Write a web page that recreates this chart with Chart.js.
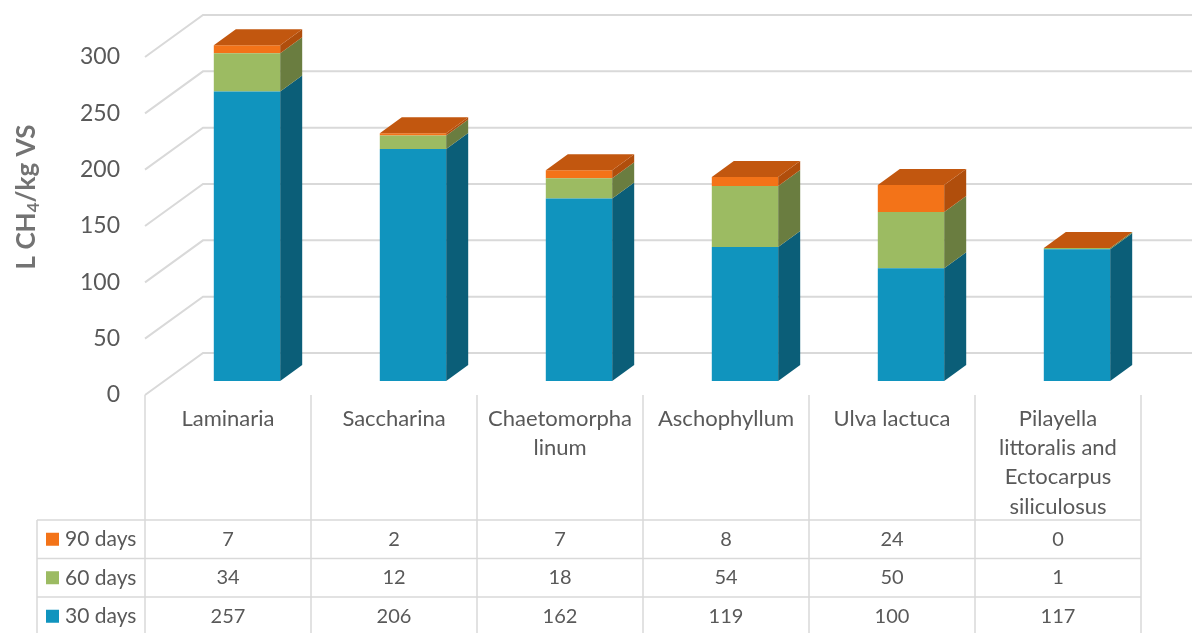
<!DOCTYPE html>
<html>
<head>
<meta charset="utf-8">
<script src="https://cdn.jsdelivr.net/npm/chart.js@4.4.1/dist/chart.umd.min.js"></script>
<style>
  html, body { margin: 0; padding: 0; background: #fff; }
  #wrap { width: 1192px; height: 633px; }
</style>
</head>
<body>
<div id="wrap"><canvas id="methaneChart"></canvas></div>
<script>
// data
const categories = [
  ['Laminaria'],
  ['Saccharina'],
  ['Chaetomorpha', 'linum'],
  ['Aschophyllum'],
  ['Ulva lactuca'],
  ['Pilayella', 'littoralis and', 'Ectocarpus', 'siliculosus']
];
const seriesNames = ['30 days', '60 days', '90 days'];
const days30 = [257, 206, 162, 119, 100, 117];
const days60 = [34, 12, 18, 54, 50, 1];
const days90 = [7, 2, 7, 8, 24, 0];
const yTicks = [0, 50, 100, 150, 200, 250, 300];

const FONT = 'Lato, "Noto Sans", sans-serif';
const TEXT = '#595959';
const GRID = '#d9d9d9';

// fake 3D: oblique offsets
const WALL = { dx: 58, dy: -42 };
const BAR_OFF = { dx: 19, dy: -14 };
const BAR_DEPTH = { dx: 22, dy: -16 };

const colors = [
  { front: '#1094be', side: '#0b5e78' },
  { front: '#9cbb62', side: '#6a7d40' },
  { front: '#f37318', side: '#b04e0c' }
];
const topColor = '#c2570f';

const threeD = {
  id: 'threeD',
  beforeDatasetsDraw(chart) {
    const { ctx, chartArea: a, scales: { y } } = chart;
    ctx.save();
    ctx.strokeStyle = GRID;
    ctx.lineWidth = 2;
    yTicks.forEach(v => {
      const py = y.getPixelForValue(v);
      ctx.beginPath();
      ctx.moveTo(a.left, py);
      ctx.lineTo(a.left + WALL.dx, py + WALL.dy);
      ctx.lineTo(chart.width, py + WALL.dy);
      ctx.stroke();
    });
    ctx.restore();
    ctx.save();
    ctx.translate(BAR_OFF.dx, BAR_OFF.dy);
  },
  afterDatasetsDraw(chart) {
    const ctx = chart.ctx;
    const n = chart.data.datasets.length;
    chart.data.datasets.forEach((ds, di) => {
      chart.getDatasetMeta(di).data.forEach(bar => {
        const p = bar.getProps(['x', 'y', 'base', 'width'], true);
        const r = p.x + p.width / 2;
        ctx.fillStyle = colors[di].side;
        ctx.beginPath();
        ctx.moveTo(r, p.y);
        ctx.lineTo(r + BAR_DEPTH.dx, p.y + BAR_DEPTH.dy);
        ctx.lineTo(r + BAR_DEPTH.dx, p.base + BAR_DEPTH.dy);
        ctx.lineTo(r, p.base);
        ctx.closePath();
        ctx.fill();
      });
    });
    chart.getDatasetMeta(n - 1).data.forEach(bar => {
      const p = bar.getProps(['x', 'y', 'width'], true);
      const l = p.x - p.width / 2, r = p.x + p.width / 2;
      ctx.fillStyle = topColor;
      ctx.beginPath();
      ctx.moveTo(l, p.y);
      ctx.lineTo(l + BAR_DEPTH.dx, p.y + BAR_DEPTH.dy);
      ctx.lineTo(r + BAR_DEPTH.dx, p.y + BAR_DEPTH.dy);
      ctx.lineTo(r, p.y);
      ctx.closePath();
      ctx.fill();
    });
    ctx.restore();
  },
  afterDraw(chart) {
    const { ctx, chartArea: a, scales: { x } } = chart;
    const rowTop = 520, rowH = 38.5;
    const rows = [
      { name: seriesNames[2], vals: days90, c: colors[2].front },
      { name: seriesNames[1], vals: days60, c: colors[1].front },
      { name: seriesNames[0], vals: days30, c: colors[0].front }
    ];
    const colW = (a.right - a.left) / categories.length;
    ctx.save();
    ctx.strokeStyle = GRID;
    ctx.lineWidth = 1.5;
    // vertical separators
    for (let i = 0; i <= categories.length; i++) {
      const px = a.left + i * colW;
      ctx.beginPath();
      ctx.moveTo(px, a.bottom);
      ctx.lineTo(px, chart.height);
      ctx.stroke();
    }
    ctx.beginPath();
    ctx.moveTo(37, rowTop);
    ctx.lineTo(37, chart.height);
    ctx.stroke();
    for (let r = 0; r <= rows.length; r++) {
      const py = rowTop + r * rowH;
      ctx.beginPath();
      ctx.moveTo(37, py);
      ctx.lineTo(a.right, py);
      ctx.stroke();
    }
    ctx.textBaseline = 'middle';
    rows.forEach((row, r) => {
      const cy = rowTop + r * rowH + rowH / 2;
      ctx.fillStyle = row.c;
      ctx.fillRect(46, cy - 6.5, 13, 13);
      ctx.fillStyle = TEXT;
      ctx.textAlign = 'left';
      ctx.font = '21px ' + FONT;
      ctx.fillText(row.name, 65, cy);
      ctx.textAlign = 'center';
      ctx.font = '20px ' + FONT;
      row.vals.forEach((v, i) => ctx.fillText(String(v), x.getPixelForValue(i), cy));
    });
    // axis title with subscript
    ctx.translate(27, 197);
    ctx.rotate(-Math.PI / 2);
    ctx.fillStyle = '#737373';
    ctx.textBaseline = 'middle';
    ctx.textAlign = 'left';
    const big = 'bold 26px ' + FONT, small = 'bold 17px ' + FONT;
    ctx.font = big;
    const w1 = ctx.measureText('L CH').width;
    const w3 = ctx.measureText('/kg VS').width;
    ctx.font = small;
    const w2 = ctx.measureText('4').width;
    let sx = -(w1 + w2 + w3) / 2;
    ctx.font = big;
    ctx.fillText('L CH', sx, 0);
    ctx.font = small;
    ctx.fillText('4', sx + w1, 7);
    ctx.font = big;
    ctx.fillText('/kg VS', sx + w1 + w2, 0);
    ctx.restore();
  }
};

const datasets = [days30, days60, days90].map((vals, i) => ({
  label: seriesNames[i],
  data: vals,
  backgroundColor: colors[i].front,
  borderWidth: 0,
  clip: false
}));

new Chart(document.getElementById('methaneChart'), {
  type: 'bar',
  data: { labels: categories, datasets: datasets },
  options: {
    responsive: true,
    maintainAspectRatio: false,
    animation: false,
    layout: { padding: { top: 57, right: 51, left: 0, bottom: 0 } },
    datasets: { bar: { barPercentage: 0.4, categoryPercentage: 1 } },
    plugins: { legend: { display: false }, tooltip: { enabled: false } },
    scales: {
      x: {
        stacked: true,
        grid: { display: false },
        border: { display: false },
        afterFit: s => { s.height = 238; },
        ticks: {
          color: TEXT,
          font: { family: FONT, size: 22, lineHeight: 1.33 },
          padding: 1,
          maxRotation: 0,
          autoSkip: false
        }
      },
      y: {
        stacked: true,
        min: 0,
        max: 300,
        grid: { display: false, drawTicks: false },
        border: { display: false },
        afterFit: s => { s.width = 145; },
        afterBuildTicks: s => { s.ticks = yTicks.map(v => ({ value: v })); },
        ticks: {
          color: TEXT,
          font: { family: FONT, size: 23 },
          padding: 25
        }
      }
    }
  },
  plugins: [threeD]
});
</script>
</body>
</html>
